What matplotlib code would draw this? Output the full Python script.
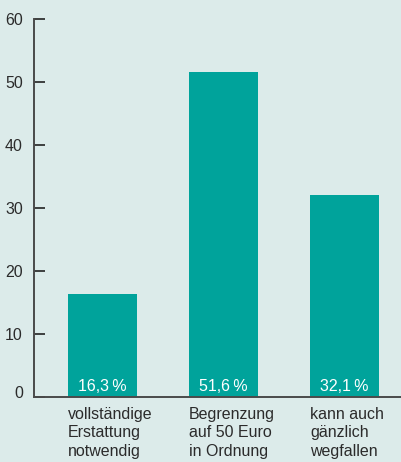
import matplotlib
matplotlib.use("Agg")
import matplotlib.pyplot as plt
import matplotlib.transforms as mtransforms

categories = ["vollständige\nErstattung\nnotwendig",
              "Begrenzung\nauf 50 Euro\nin Ordnung",
              "kann auch\ngänzlich\nwegfallen"]
values = [16.3, 51.6, 32.1]
value_labels = ["16,3\u2009%", "51,6\u2009%", "32,1\u2009%"]
yticks = [0, 10, 20, 30, 40, 50, 60]

BG = "#dcebea"
BAR = "#00a39b"
AX = "#4a4a4a"
TXT = "#2b2b2b"

plt.rcParams['font.family'] = ['Liberation Sans', 'DejaVu Sans']

fig = plt.figure(figsize=(4.02, 4.62), dpi=100, facecolor=BG)
ax = fig.add_axes([34/402, 65/462, 1 - 34/402, (397-19)/462])
ax.set_facecolor(BG)

x = list(range(len(values)))
w = 0.57
ax.bar(x, values, width=w, color=BAR, zorder=2)

ax.set_xlim(-0.566, 2.475)
ax.set_ylim(0, 60)
ax.set_yticks(yticks)
ax.set_yticklabels([str(t) for t in yticks])
ax.set_xticks([])

for s in ['top', 'right']:
    ax.spines[s].set_visible(False)
for s in ['left', 'bottom']:
    ax.spines[s].set_color(AX)
    ax.spines[s].set_linewidth(1.4)
ax.spines['bottom'].set_zorder(3)

ax.tick_params(axis='y', direction='in', length=8, width=1.2, color='#222222',
               pad=8, labelsize=11.5, labelcolor=TXT)

# the zero label sits slightly above the baseline in the reference
zero_lbl = ax.get_yticklabels()[0]
zero_lbl.set_transform(zero_lbl.get_transform() +
                       mtransforms.ScaledTranslation(0, 5/100, fig.dpi_scale_trans))

for i, (v, lab, cat) in enumerate(zip(values, value_labels, categories)):
    ax.annotate(lab, xy=(i, 0), xytext=(0, 6), textcoords='offset pixels',
                ha='center', va='baseline', color='white', fontsize=11.5,
                annotation_clip=False, zorder=4)
    ax.annotate(cat, xy=(i - w/2, 0), xytext=(0, -10), textcoords='offset pixels',
                ha='left', va='top', color=TXT, fontsize=11.5, linespacing=1.28,
                annotation_clip=False)

fig.savefig("out.png", dpi=100, facecolor=BG)
